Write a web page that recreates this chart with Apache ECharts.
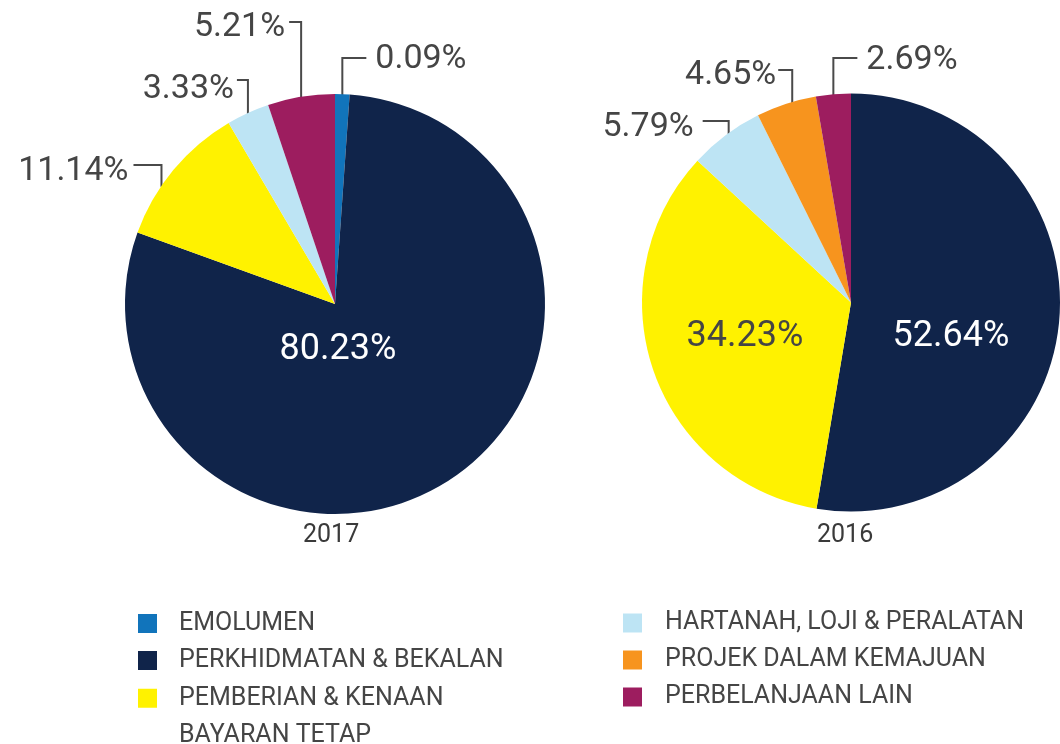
<!DOCTYPE html>
<html>
<head>
<meta charset="utf-8">
<script src="https://cdn.jsdelivr.net/npm/echarts@6/dist/echarts.min.js"></script>
<style>
  html, body { margin: 0; padding: 0; background: #fff; }
  #chart { width: 1060px; height: 744px; }
</style>
</head>
<body>
<div id="chart"></div>
<script>
// data
var years = ['2017', '2016'];
var names2017 = ['EMOLUMEN', 'PERKHIDMATAN & BEKALAN', 'PEMBERIAN & KENAAN BAYARAN TETAP', 'HARTANAH, LOJI & PERALATAN', 'PERBELANJAAN LAIN'];
var values2017 = [0.09, 80.23, 11.14, 3.33, 5.21];
var names2016 = ['PERKHIDMATAN & BEKALAN', 'PEMBERIAN & KENAAN BAYARAN TETAP', 'HARTANAH, LOJI & PERALATAN', 'PROJEK DALAM KEMAJUAN', 'PERBELANJAAN LAIN'];
var values2016 = [52.64, 34.23, 5.79, 4.65, 2.69];
var legendLeft = ['EMOLUMEN', 'PERKHIDMATAN & BEKALAN'];
var legendLeft2 = ['PEMBERIAN & KENAAN BAYARAN TETAP'];
var legendRight = ['HARTANAH, LOJI & PERALATAN', 'PROJEK DALAM KEMAJUAN', 'PERBELANJAAN LAIN'];

var colors = {
  'EMOLUMEN': '#1174bb',
  'PERKHIDMATAN & BEKALAN': '#10244a',
  'PEMBERIAN & KENAAN BAYARAN TETAP': '#fff200',
  'HARTANAH, LOJI & PERALATAN': '#bde4f4',
  'PROJEK DALAM KEMAJUAN': '#f7941e',
  'PERBELANJAAN LAIN': '#9d1d5f'
};

var FONT = 'Roboto, "Open Sans", sans-serif';
var TXT = '#454545';

// label placement (styling only)
var lbl2017 = [
  { side: 'right', lineY: 58, len: 24, gap: 9, textY: 59 },
  { inside: true, dx: 3, dy: 46, color: '#fff' },
  { side: 'left', lineY: 165, len: 28, gap: 5, textY: 171, shift: -12 },
  { side: 'left', lineY: 80, len: 11, gap: 3, textY: 89 },
  { side: 'left', lineY: 22, len: 12, gap: 4, textY: 27 }
];
var lbl2016 = [
  { inside: true, dx: 100, dy: 34, color: '#fff' },
  { inside: true, dx: -106, dy: 34, color: TXT },
  { side: 'left', lineY: 121, len: 26, gap: 9, textY: 127, shift: 3 },
  { side: 'left', lineY: 70, len: 14, gap: 2, textY: 75, shift: 6 },
  { side: 'right', lineY: 58, len: 24, gap: 9, textY: 60 }
];

function buildData(names, values, cfgs) {
  return names.map(function (n, i) {
    var c = cfgs[i];
    var item = { name: n, value: values[i], itemStyle: { color: colors[n] } };
    if (c.inside) {
      item.label = { position: 'inside', color: c.color, fontSize: 36 };
      item.labelLine = { show: false };
    }
    return item;
  });
}

function makeLayout(cfgs, cx, cy, r) {
  return function (p) {
    var c = cfgs[p.dataIndex];
    if (c.inside) {
      return { x: cx + c.dx, y: cy + c.dy, align: 'center', verticalAlign: 'middle' };
    }
    var ax = p.labelLinePoints[0][0] + (c.shift || 0);
    var ay = cy - Math.sqrt(r * r - (ax - cx) * (ax - cx)) + 1;
    var ex = c.side === 'left' ? ax - c.len : ax + c.len;
    return {
      x: c.side === 'left' ? ex - c.gap : ex + c.gap,
      y: c.textY,
      align: c.side === 'left' ? 'right' : 'left',
      verticalAlign: 'middle',
      labelLinePoints: [[ax, ay], [ax, c.lineY], [ex, c.lineY]]
    };
  };
}

function pieSeries(name, names, values, cfgs, cx, cy, r, minAngle) {
  return {
    name: name,
    type: 'pie',
    center: [cx, cy],
    radius: r,
    startAngle: 90,
    clockwise: true,
    minAngle: minAngle,
    avoidLabelOverlap: false,
    silent: true,
    label: {
      show: true,
      position: 'outside',
      fontFamily: FONT,
      fontSize: 34,
      color: TXT,
      formatter: function (p) { return p.value.toFixed(2) + '%'; }
    },
    labelLine: {
      show: true,
      length: 10,
      length2: 10,
      lineStyle: { color: '#4a4a4a', width: 2 }
    },
    labelLayout: makeLayout(cfgs, cx, cy, r),
    data: buildData(names, values, cfgs)
  };
}

var legendText = { fontFamily: FONT, fontSize: 25, color: TXT };

var chart = echarts.init(document.getElementById('chart'), null, { renderer: 'canvas' });
chart.setOption({
  animation: false,
  title: [
    { text: years[0], left: 303, top: 523, padding: 0, textStyle: { fontFamily: FONT, fontSize: 25, fontWeight: 'normal', color: '#3a3a3a' } },
    { text: years[1], left: 817, top: 523, padding: 0, textStyle: { fontFamily: FONT, fontSize: 25, fontWeight: 'normal', color: '#3a3a3a' } }
  ],
  legend: [
    {
      data: legendLeft, orient: 'vertical', left: 138, top: 611, padding: 0,
      icon: 'rect', itemWidth: 19, itemHeight: 19, itemGap: 12, selectedMode: false,
      textStyle: Object.assign({ padding: [0, 0, 0, 17] }, legendText)
    },
    {
      // blank first line keeps the square beside the first line of the wrapped name
      data: legendLeft2,
      orient: 'vertical', left: 138, top: 642, padding: 0,
      icon: 'rect', itemWidth: 19, itemHeight: 19, selectedMode: false,
      formatter: function (n) { return ' \n' + n.replace('KENAAN ', 'KENAAN\n'); },
      textStyle: Object.assign({ padding: [0, 0, 0, 17], lineHeight: 37.5 }, legendText)
    },
    {
      data: legendRight, orient: 'vertical', left: 623, top: 610.5, padding: 0,
      icon: 'rect', itemWidth: 19, itemHeight: 19, itemGap: 12, selectedMode: false,
      textStyle: Object.assign({ padding: [0, 0, 0, 18] }, legendText)
    }
  ],
  series: [
    pieSeries(years[0], names2017, values2017, lbl2017, 335, 304, 210, 4),
    pieSeries(years[1], names2016, values2016, lbl2016, 851, 302.5, 209, 0)
  ]
});
</script>
</body>
</html>
